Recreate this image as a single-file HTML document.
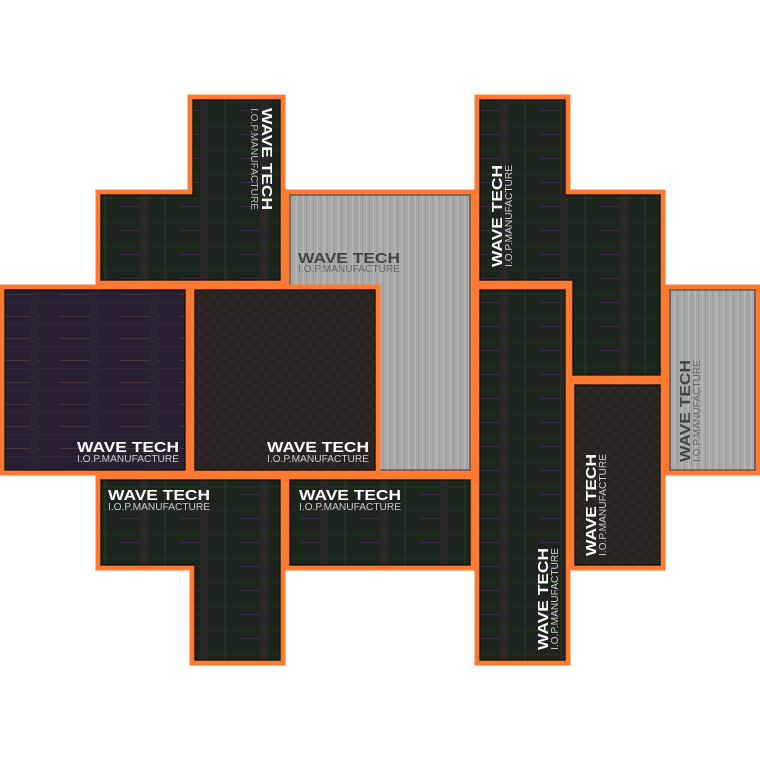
<!DOCTYPE html>
<html><head><meta charset="utf-8"><style>html,body{margin:0;padding:0;background:#fff}svg{display:block}</style></head>
<body>
<svg width="760" height="760" viewBox="0 0 760 760" xmlns="http://www.w3.org/2000/svg">
<defs>
<pattern id="pg" width="60" height="24" patternUnits="userSpaceOnUse">
<rect width="60" height="24" fill="#1c251c"/>
<rect x="0" y="6" width="60" height="1" fill="#263024"/>
<rect x="0" y="14" width="30" height="1" fill="#3e2a4a"/>
<rect x="20" y="0" width="8" height="24" fill="#2a2729"/>
<rect x="44" y="0" width="2" height="24" fill="#223220"/>
</pattern>
<pattern id="pp" width="60" height="22" patternUnits="userSpaceOnUse">
<rect width="60" height="22" fill="#281f30"/>
<rect x="0" y="8" width="40" height="1" fill="#453640"/>
<rect x="0" y="16" width="60" height="1" fill="#32283a"/>
<rect x="30" y="0" width="8" height="22" fill="#2a2530"/>
</pattern>
<pattern id="pc" width="12" height="12" patternUnits="userSpaceOnUse">
<rect width="12" height="12" fill="#282321"/>
<rect x="0" y="0" width="6" height="6" fill="#2d2826"/>
<rect x="6" y="6" width="6" height="6" fill="#2d2826"/>
</pattern>
<pattern id="br" width="7" height="10" patternUnits="userSpaceOnUse">
<rect width="7" height="10" fill="#a9a9a9"/>
<rect x="2" width="1" height="10" fill="#b8b8b8"/>
<rect x="5" width="1" height="10" fill="#9c9c9c"/>
</pattern>
<style>.o{stroke:#ff7a30;stroke-width:5}.b{fill:none;stroke:#000;stroke-opacity:.35;stroke-width:2}</style>
</defs>
<polygon class="o" points="190,97 283,97 283,283 98,283 98,192 190,192" fill="url(#pg)"/>
<polygon class="b" points="193,100 280,100 280,280 101,280 101,195 193,195"/>
<rect class="o" x="287" y="192" width="186" height="281" fill="url(#br)"/>
<rect class="b" x="290" y="195" width="180" height="275"/>
<rect class="o" x="2" y="287" width="186" height="186" fill="url(#pp)"/>
<rect class="b" x="5" y="290" width="180" height="180"/>
<rect class="o" x="192" y="287" width="186" height="186" fill="url(#pc)"/>
<rect class="b" x="195" y="290" width="180" height="180"/>
<polygon class="o" points="98,477 283,477 283,663 192,663 192,568 98,568" fill="url(#pg)"/>
<polygon class="b" points="101,480 280,480 280,660 195,660 195,565 101,565"/>
<rect class="o" x="287" y="477" width="186" height="91" fill="url(#pg)"/>
<rect class="b" x="290" y="480" width="180" height="85"/>
<polygon class="o" points="477,97 568,97 568,192 663,192 663,378 570,378 570,283 477,283" fill="url(#pg)"/>
<polygon class="b" points="480,100 565,100 565,195 660,195 660,375 573,375 573,280 480,280"/>
<rect class="o" x="477" y="287" width="91" height="376" fill="url(#pg)"/>
<rect class="b" x="480" y="290" width="85" height="370"/>
<rect class="o" x="572" y="382" width="91" height="186" fill="url(#pc)"/>
<rect class="b" x="575" y="385" width="85" height="180"/>
<rect class="o" x="667" y="287" width="91" height="186" fill="url(#br)"/>
<rect class="b" x="670" y="290" width="85" height="180"/>
<g font-family="Liberation Sans, sans-serif">
<g transform="translate(262,108) rotate(90)"><text x="0" y="0" font-weight="bold" font-size="15" fill="#fff" textLength="102" lengthAdjust="spacingAndGlyphs">WAVE TECH</text><text x="0" y="11" font-size="10" fill="#bbb" textLength="102" lengthAdjust="spacingAndGlyphs">I.O.P.MANUFACTURE</text></g>
<text x="298" y="263" font-weight="bold" font-size="15" fill="#444" textLength="102" lengthAdjust="spacingAndGlyphs">WAVE TECH</text>
<text x="298" y="272" font-size="10" fill="#666" textLength="102" lengthAdjust="spacingAndGlyphs">I.O.P.MANUFACTURE</text>
<text x="77" y="452" font-weight="bold" font-size="15" fill="#fff" textLength="102" lengthAdjust="spacingAndGlyphs">WAVE TECH</text>
<text x="77" y="462" font-size="10" fill="#ccc" textLength="102" lengthAdjust="spacingAndGlyphs">I.O.P.MANUFACTURE</text>
<text x="267" y="452" font-weight="bold" font-size="15" fill="#fff" textLength="102" lengthAdjust="spacingAndGlyphs">WAVE TECH</text>
<text x="267" y="462" font-size="10" fill="#ccc" textLength="102" lengthAdjust="spacingAndGlyphs">I.O.P.MANUFACTURE</text>
<text x="108" y="500" font-weight="bold" font-size="15" fill="#fff" textLength="102" lengthAdjust="spacingAndGlyphs">WAVE TECH</text>
<text x="108" y="510" font-size="10" fill="#ccc" textLength="102" lengthAdjust="spacingAndGlyphs">I.O.P.MANUFACTURE</text>
<text x="299" y="500" font-weight="bold" font-size="15" fill="#fff" textLength="102" lengthAdjust="spacingAndGlyphs">WAVE TECH</text>
<text x="299" y="510" font-size="10" fill="#ccc" textLength="102" lengthAdjust="spacingAndGlyphs">I.O.P.MANUFACTURE</text>
<g transform="translate(502,267) rotate(-90)"><text x="0" y="0" font-weight="bold" font-size="15" fill="#fff" textLength="102" lengthAdjust="spacingAndGlyphs">WAVE TECH</text><text x="0" y="10" font-size="10" fill="#ccc" textLength="102" lengthAdjust="spacingAndGlyphs">I.O.P.MANUFACTURE</text></g>
<g transform="translate(548,650) rotate(-90)"><text x="0" y="0" font-weight="bold" font-size="15" fill="#fff" textLength="102" lengthAdjust="spacingAndGlyphs">WAVE TECH</text><text x="0" y="10" font-size="10" fill="#ccc" textLength="102" lengthAdjust="spacingAndGlyphs">I.O.P.MANUFACTURE</text></g>
<g transform="translate(596,556) rotate(-90)"><text x="0" y="0" font-weight="bold" font-size="15" fill="#fff" textLength="102" lengthAdjust="spacingAndGlyphs">WAVE TECH</text><text x="0" y="10" font-size="10" fill="#ccc" textLength="102" lengthAdjust="spacingAndGlyphs">I.O.P.MANUFACTURE</text></g>
<g transform="translate(690,462) rotate(-90)"><text x="0" y="0" font-weight="bold" font-size="15" fill="#444" textLength="102" lengthAdjust="spacingAndGlyphs">WAVE TECH</text><text x="0" y="10" font-size="10" fill="#666" textLength="102" lengthAdjust="spacingAndGlyphs">I.O.P.MANUFACTURE</text></g>
</g>
</svg>
</body></html>
